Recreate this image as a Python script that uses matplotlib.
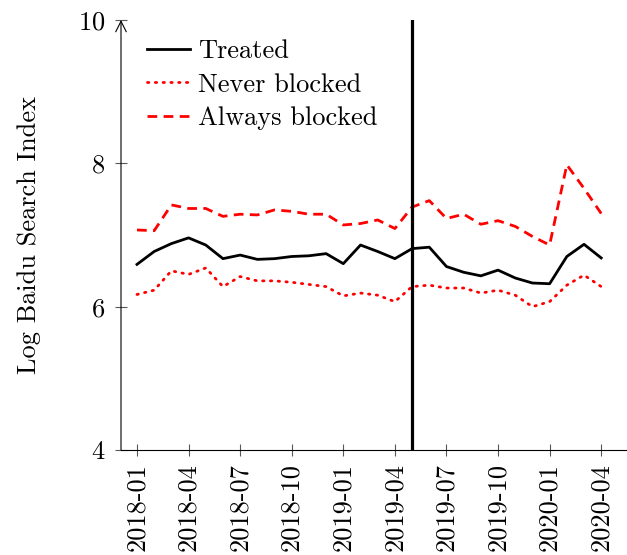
import matplotlib.pyplot as plt
import numpy as np

plt.rcParams['font.family'] = 'cmr10'
plt.rcParams['axes.formatter.use_mathtext'] = True
plt.rcParams['font.size'] = 19

# monthly series, 2018-01 .. 2020-04
months = ['2018-01', '2018-02', '2018-03', '2018-04', '2018-05', '2018-06', '2018-07',
          '2018-08', '2018-09', '2018-10', '2018-11', '2018-12', '2019-01', '2019-02',
          '2019-03', '2019-04', '2019-05', '2019-06', '2019-07', '2019-08', '2019-09',
          '2019-10', '2019-11', '2019-12', '2020-01', '2020-02', '2020-03', '2020-04']
treated = [6.59, 6.77, 6.88, 6.96, 6.86, 6.67, 6.72, 6.66, 6.67, 6.70, 6.71, 6.74, 6.60, 6.86,
           6.77, 6.67, 6.81, 6.83, 6.56, 6.48, 6.43, 6.51, 6.40, 6.33, 6.32, 6.70, 6.87, 6.68]
never_blocked = [6.17, 6.23, 6.50, 6.45, 6.54, 6.28, 6.42, 6.36, 6.36, 6.34, 6.31, 6.28, 6.15, 6.19,
                 6.16, 6.07, 6.28, 6.30, 6.26, 6.26, 6.19, 6.23, 6.16, 6.00, 6.07, 6.30, 6.44, 6.28]
always_blocked = [7.07, 7.06, 7.42, 7.37, 7.37, 7.26, 7.29, 7.28, 7.35, 7.33, 7.29, 7.29, 7.14, 7.16,
                  7.21, 7.09, 7.39, 7.48, 7.23, 7.29, 7.15, 7.20, 7.12, 6.98, 6.86, 7.98, 7.65, 7.30]
event_month = '2019-05'
tick_months = months[::3]

x = np.arange(len(months))

fig = plt.figure(figsize=(6.27, 5.55), dpi=100)
ax = fig.add_axes([121/627, 105/555, 506/627, 430/555])

ax.plot(x, treated, color='black', lw=2.0, label='Treated', solid_joinstyle='round')
ax.plot(x, never_blocked, color='red', lw=2.0, ls=(0, (0.5, 2.3)), dash_capstyle='round',
        label='Never blocked')
ax.plot(x, always_blocked, color='red', lw=2.0, ls=(0, (3.5, 2.3)), label='Always blocked')
ax.axvline(months.index(event_month), color='black', lw=2.3)

ax.set_xlim(-0.93, 28.5)
ax.set_ylim(4, 10)
ax.set_yticks([4, 6, 8, 10])
ax.set_xticks([months.index(m) for m in tick_months])
ax.set_xticklabels(tick_months, rotation=90)
ax.tick_params(direction='inout', length=8.5, width=0.8, color='0.35', pad=5)
ax.tick_params(axis='y', pad=7)
ax.set_ylabel('Log Baidu Search Index', labelpad=27)

for s in ['top', 'right', 'left']:
    ax.spines[s].set_visible(False)
ax.spines['bottom'].set_linewidth(0.8)
ax.annotate('', xy=(0, 1.0), xytext=(0, 0), xycoords='axes fraction',
            arrowprops=dict(arrowstyle='->', lw=0.8, color='black', shrinkA=0, shrinkB=0))

ax.legend(loc='upper left', bbox_to_anchor=(0.03, 0.98), frameon=False,
          handlelength=1.65, handletextpad=0.3, labelspacing=0.38, borderaxespad=0)

plt.savefig('out.png', dpi=100)
